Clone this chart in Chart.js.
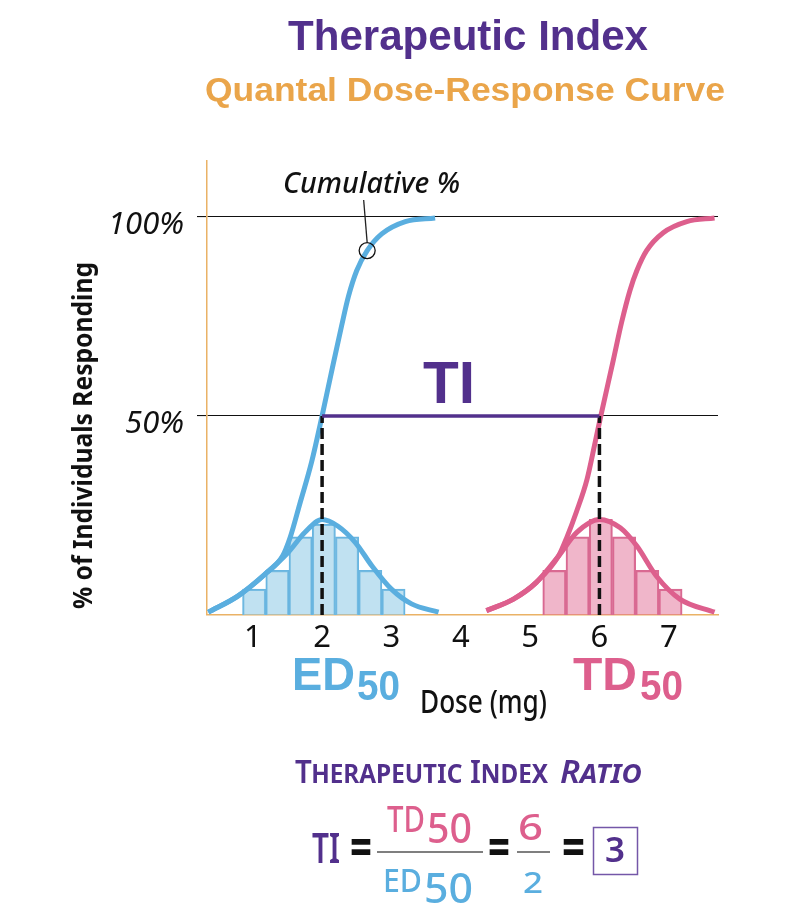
<!DOCTYPE html>
<html>
<head>
<meta charset="utf-8">
<title>Therapeutic Index</title>
<script src="https://cdn.jsdelivr.net/npm/chart.js@4.4.1/dist/chart.umd.min.js"></script>
<style>
  html, body { margin: 0; padding: 0; background: #fff; }
</style>
</head>
<body>
<canvas id="tiChart" width="788" height="924"></canvas>
<script>
// axis ticks
var doseTicks = [1, 2, 3, 4, 5, 6, 7];
var percentTicks = [50, 100];

// ED50 / TD50 doses and the 50% response level
var medianDoses = [2, 6];
var halfResponse = 50;

// histogram bins (dose, % responding)
var edBins = [1.02, 1.355, 1.69, 2.025, 2.36, 2.695, 3.03];
var edCounts = [6.5, 11.2, 19.6, 22.8, 19.6, 11.2, 6.5];
var tdBins = [5.35, 5.685, 6.02, 6.355, 6.69, 7.025];
var tdCounts = [11.2, 19.6, 24, 19.6, 11.2, 6.5];

// frequency curves
var edBellDose = [0.36, 0.79, 1.18, 1.51, 1.75, 2.0, 2.23, 2.48, 2.72, 3.0, 3.29, 3.68];
var edBellPct = [0.7, 4.8, 10.3, 15.7, 20.7, 24, 22.3, 18.2, 12.3, 6.5, 2.8, 0.7];
var tdBellDose = [4.37, 4.76, 5.09, 5.41, 5.67, 6.0, 6.3, 6.54, 6.82, 7.16, 7.66];
var tdBellPct = [1.1, 4, 8.2, 14.8, 20.7, 24, 21.9, 17.3, 9.8, 4, 0.7];

// cumulative curves
var edCumDose = [0.36, 0.79, 1.18, 1.43, 1.54, 1.68, 1.85, 2.0, 2.16, 2.28, 2.38, 2.5, 2.65, 2.86, 3.2, 3.63];
var edCumPct = [0.7, 4.8, 10.3, 14.8, 19.5, 28, 38.5, 50, 63, 72.5, 80, 86.5, 91.5, 95.7, 98.8, 99.7];
var tdCumDose = [4.37, 4.76, 5.09, 5.41, 5.53, 5.67, 5.82, 5.94, 6.02, 6.2, 6.32, 6.44, 6.54, 6.68, 6.92, 7.26, 7.66];
var tdCumPct = [1.1, 4, 8.2, 14.8, 19.5, 26, 34, 43.5, 50, 64, 73.5, 81.5, 86.5, 91.5, 96, 98.8, 99.7];

// point marked "Cumulative %"
var cumulativeMarker = [2.65, 91.5];

var blue = '#5aaedf';
var pink = '#dd5f8d';
var purple = '#52308c';
var orange = '#eaa54a';
var axisOrange = '#eab266';

function points(xs, ys) {
    return xs.map(function (x, i) { return { x: x, y: ys[i] }; });
}

// draws text squeezed to a given width
function drawText(ctx, text, x, y, width, font, color) {
    ctx.font = font;
    var w = ctx.measureText(text).width;
    ctx.save();
    ctx.translate(x, y);
    ctx.scale(width / w, 1);
    ctx.fillStyle = color;
    ctx.textAlign = 'left';
    ctx.textBaseline = 'alphabetic';
    ctx.fillText(text, 0, 0);
    ctx.restore();
}

var annotations = {
    id: 'annotations',
    afterDraw: function (chart) {
        var ctx = chart.ctx;
        var xs = chart.scales.x, ys = chart.scales.y;

        // headings
        drawText(ctx, 'Therapeutic Index', 288, 50, 360, 'bold 42px "Liberation Sans"', purple);
        drawText(ctx, 'Quantal Dose-Response Curve', 205, 101, 520, 'bold 34px "Liberation Sans"', orange);

        // axis titles
        ctx.save();
        ctx.translate(92, 609);
        ctx.rotate(-Math.PI / 2);
        drawText(ctx, '% of Individuals Responding', 0, 0, 347, 'bold 26px "Noto Sans"', '#111');
        ctx.restore();
        drawText(ctx, 'Dose (mg)', 420, 713, 127, '500 33px "Noto Sans"', '#111');

        // ED50 / TD50
        drawText(ctx, 'ED', 292, 690, 63, 'bold 47px "Liberation Sans"', blue);
        drawText(ctx, '50', 357, 700, 43, 'bold 43px "Liberation Sans"', blue);
        drawText(ctx, 'TD', 573, 690, 64, 'bold 47px "Liberation Sans"', pink);
        drawText(ctx, '50', 640, 700, 43, 'bold 43px "Liberation Sans"', pink);

        // TI label over the purple line
        drawText(ctx, 'TI', 423, 403, 52, 'bold 59px "Liberation Sans"', purple);

        // cumulative % callout
        drawText(ctx, 'Cumulative %', 283, 193, 177, 'italic 500 29px "Noto Sans"', '#111');
        var mx = xs.getPixelForValue(cumulativeMarker[0]);
        var my = ys.getPixelForValue(cumulativeMarker[1]);
        ctx.save();
        ctx.strokeStyle = '#222';
        ctx.lineWidth = 1.3;
        ctx.beginPath();
        ctx.moveTo(mx - 3.5, 200);
        ctx.lineTo(mx, my - 8);
        ctx.stroke();
        ctx.restore();

        // ratio formula
        drawText(ctx, 'Therapeutic Index', 295, 783, 253, 'small-caps 600 32px "Noto Sans"', purple);
        drawText(ctx, 'Ratio', 560, 783, 82, 'italic small-caps 600 32px "Noto Sans"', purple);

        drawText(ctx, 'TI', 312, 863, 28, '600 42px "Noto Sans"', purple);
        drawText(ctx, '=', 350, 866, 22, 'bold 54px "Noto Sans"', '#111');
        drawText(ctx, 'TD', 387, 832, 38, '500 37px "Noto Sans"', pink);
        drawText(ctx, '50', 427, 843, 45, '500 41px "Noto Sans"', pink);
        drawText(ctx, 'ED', 383, 892, 39, '500 32px "Noto Sans"', blue);
        drawText(ctx, '50', 424, 903, 49, '500 41px "Noto Sans"', blue);
        drawText(ctx, '=', 488, 866, 22, 'bold 54px "Noto Sans"', '#111');
        drawText(ctx, '6', 518, 840, 25, '500 37px "Noto Sans"', pink);
        drawText(ctx, '2', 523, 893, 20, '500 29px "Noto Sans"', blue);
        drawText(ctx, '=', 562, 866, 23, 'bold 54px "Noto Sans"', '#111');
        drawText(ctx, '3', 605, 862, 20, '600 35px "Noto Sans"', purple);

        ctx.save();
        ctx.strokeStyle = '#555';
        ctx.lineWidth = 1.5;
        ctx.beginPath();
        ctx.moveTo(377, 852); ctx.lineTo(483, 852);
        ctx.moveTo(517, 852); ctx.lineTo(550, 852);
        ctx.stroke();
        ctx.strokeStyle = '#7457a8';
        ctx.strokeRect(593.5, 827.5, 44, 47);
        ctx.restore();
    }
};

var ctx = document.getElementById('tiChart');

var tiChart = new Chart(ctx, {
    type: 'bar',
    data: {
        datasets: [
            {
                type: 'line',
                data: [{ x: medianDoses[0], y: halfResponse }, { x: medianDoses[1], y: halfResponse }],
                borderColor: purple,
                borderWidth: 3.5,
                pointRadius: 0,
                order: 2
            },
            {
                type: 'line',
                data: [{ x: medianDoses[0], y: 0 }, { x: medianDoses[0], y: halfResponse }],
                borderColor: '#111',
                borderWidth: 3.5,
                borderDash: [11, 5],
                pointRadius: 0,
                order: 3
            },
            {
                type: 'line',
                data: [{ x: medianDoses[1], y: 0 }, { x: medianDoses[1], y: halfResponse }],
                borderColor: '#111',
                borderWidth: 3.5,
                borderDash: [11, 5],
                pointRadius: 0,
                order: 3
            },
            {
                type: 'line',
                data: [{ x: cumulativeMarker[0], y: cumulativeMarker[1] }],
                showLine: false,
                pointRadius: 8,
                pointBorderWidth: 1.3,
                pointBorderColor: '#111',
                pointBackgroundColor: 'rgba(0,0,0,0)',
                order: 1
            },
            {
                type: 'line',
                data: points(edCumDose, edCumPct),
                borderColor: blue,
                borderWidth: 5,
                cubicInterpolationMode: 'monotone',
                pointRadius: 0,
                order: 4
            },
            {
                type: 'line',
                data: points(tdCumDose, tdCumPct),
                borderColor: pink,
                borderWidth: 5,
                cubicInterpolationMode: 'monotone',
                pointRadius: 0,
                order: 4
            },
            {
                type: 'line',
                data: points(edBellDose, edBellPct),
                borderColor: blue,
                borderWidth: 5,
                cubicInterpolationMode: 'monotone',
                pointRadius: 0,
                order: 5
            },
            {
                type: 'line',
                data: points(tdBellDose, tdBellPct),
                borderColor: pink,
                borderWidth: 5,
                cubicInterpolationMode: 'monotone',
                pointRadius: 0,
                order: 5
            },
            {
                data: points(edBins, edCounts),
                backgroundColor: 'rgba(140,200,230,0.55)',
                borderColor: '#69b5e0',
                borderWidth: 1.5,
                barPercentage: 1,
                categoryPercentage: 1,
                grouped: false,
                order: 10
            },
            {
                data: points(tdBins, tdCounts),
                backgroundColor: 'rgba(225,110,150,0.5)',
                borderColor: '#d86a92',
                borderWidth: 1.5,
                barPercentage: 1,
                categoryPercentage: 1,
                grouped: false,
                order: 10
            }
        ]
    },
    options: {
        responsive: false,
        animation: false,
        devicePixelRatio: 1,
        events: [],
        layout: { padding: { top: 161, right: 70, left: 0, bottom: 0 } },
        plugins: {
            legend: { display: false },
            tooltip: { enabled: false },
            title: { display: false }
        },
        scales: {
            x: {
                type: 'linear',
                min: 0.34,
                max: 7.71,
                offset: false,
                grid: { display: false, drawTicks: false, offset: false },
                border: { color: axisOrange, width: 1.5 },
                ticks: {
                    color: '#111',
                    padding: 5,
                    maxRotation: 0,
                    font: { family: 'Noto Sans', size: 31 }
                },
                afterBuildTicks: function (scale) {
                    scale.ticks = doseTicks.map(function (v) { return { value: v }; });
                },
                afterFit: function (scale) { scale.height = 309; }
            },
            y: {
                type: 'linear',
                min: 0,
                max: 114,
                grid: { color: '#111', lineWidth: 1.1, tickLength: 10, tickColor: '#111' },
                border: { color: axisOrange, width: 1.5 },
                ticks: {
                    color: '#111',
                    padding: 13,
                    labelOffset: 8,
                    font: { family: 'Noto Sans', style: 'italic', size: 31 },
                    callback: function (v) { return v + '%'; }
                },
                afterBuildTicks: function (scale) {
                    scale.ticks = percentTicks.map(function (v) { return { value: v }; });
                },
                afterFit: function (scale) { scale.width = 207; }
            }
        }
    },
    plugins: [annotations]
});
</script>
</body>
</html>
